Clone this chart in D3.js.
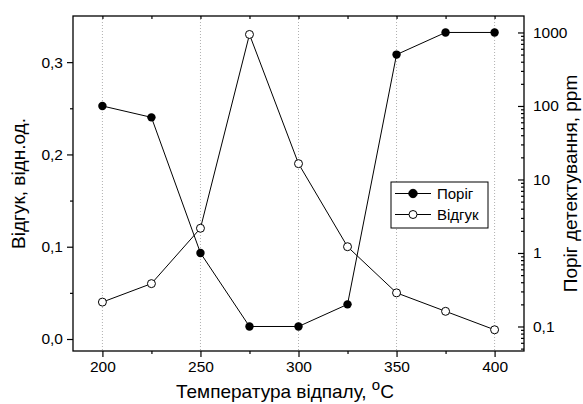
<!DOCTYPE html>
<html>
<head>
<meta charset="utf-8">
<script src="https://cdn.jsdelivr.net/npm/d3@7"></script>
<style>
  html, body { margin: 0; padding: 0; background: #fff; }
  svg { display: block; font-family: "Liberation Sans", Arial, sans-serif; }
</style>
</head>
<body>
<svg id="chart" width="583" height="404"></svg>
<script>
// Annealing temperature, °C
const temperatures = [200, 225, 250, 275, 300, 325, 350, 375, 400];
// Detection threshold, ppm (right, log axis)
const threshold = [100, 70, 1, 0.1, 0.1, 0.2, 500, 1000, 1000];
// Response, rel. units (left axis)
const response = [0.04, 0.06, 0.12, 0.33, 0.19, 0.10, 0.05, 0.03, 0.01];

const xTicks = [200, 250, 300, 350, 400];
const xMinorTicks = [225, 275, 325, 375];
const leftTicks = [0.0, 0.1, 0.2, 0.3];
const leftMinorTicks = [0.05, 0.15, 0.25];
const rightTicks = [0.1, 1, 10, 100, 1000];
const rightLabels = ["0,1", "1", "10", "100", "1000"];
const seriesNames = ["Поріг", "Відгук"];

const svg = d3.select("#chart");
const L = 73, R = 524, T = 16, B = 351;

const x = d3.scaleLinear().domain([185, 415]).range([L, R]);
const yL = d3.scaleLinear().domain([-0.013, 0.35]).range([B, T]);
const yR = d3.scaleLog().domain([0.0464, 1675]).range([B, T]);

const fmt = d => d3.format(".1f")(d).replace(".", ",");

// vertical dotted grid
svg.append("g").selectAll("line").data(xTicks).join("line")
  .attr("x1", d => x(d)).attr("x2", d => x(d))
  .attr("y1", T).attr("y2", B)
  .attr("stroke", "#b0b0b0").attr("stroke-width", 1)
  .attr("stroke-dasharray", "1,2");

// frame
svg.append("rect").attr("x", L).attr("y", T).attr("width", R - L).attr("height", B - T)
  .attr("fill", "none").attr("stroke", "#000").attr("stroke-width", 1.3);

// bottom axis
svg.append("g").attr("transform", `translate(0,${B})`)
  .call(d3.axisBottom(x).tickValues(xTicks).tickSize(6).tickPadding(4).tickFormat(d3.format("d")));
svg.append("g").attr("transform", `translate(0,${B})`)
  .call(d3.axisBottom(x).tickValues(xMinorTicks).tickSize(3).tickFormat(""));
// top axis marks
svg.append("g").attr("transform", `translate(0,${T})`)
  .call(d3.axisBottom(x).tickValues(xTicks.concat(xMinorTicks)).tickSize(3).tickFormat(""));

// left axis
svg.append("g").attr("transform", `translate(${L},0)`)
  .call(d3.axisLeft(yL).tickValues(leftTicks).tickSize(6).tickPadding(4).tickFormat(fmt));
svg.append("g").attr("transform", `translate(${L},0)`)
  .call(d3.axisLeft(yL).tickValues(leftMinorTicks).tickSize(3).tickFormat(""));

// right log axis, ticks pointing inward
const rightMinor = [];
[0.01, 0.1, 1, 10, 100, 1000].forEach(dec => {
  for (let k = 2; k <= 9; k++) {
    const v = dec * k;
    if (v >= yR.domain()[0] && v <= yR.domain()[1]) rightMinor.push(v);
  }
});
svg.append("g").attr("transform", `translate(${R},0)`)
  .call(d3.axisLeft(yR).tickValues(rightTicks).tickSize(6).tickFormat(""));
svg.append("g").attr("transform", `translate(${R},0)`)
  .call(d3.axisLeft(yR).tickValues(rightMinor).tickSize(3).tickFormat(""));
svg.append("g").selectAll("text").data(rightTicks).join("text")
  .attr("x", R + 9).attr("y", d => yR(d)).attr("dy", "0.35em")
  .attr("font-size", 15.5).text((d, i) => rightLabels[i]);

svg.selectAll(".domain").remove();
svg.selectAll(".tick line").attr("stroke", "#000").attr("stroke-width", 1.2);
svg.selectAll(".tick text").attr("font-size", 15.5).attr("fill", "#000")
  .attr("font-family", "Liberation Sans, Arial, sans-serif");

// series
const lineR = d3.line().x((d, i) => x(temperatures[i])).y(d => yR(d));
const lineL = d3.line().x((d, i) => x(temperatures[i])).y(d => yL(d));

svg.append("path").attr("d", lineR(threshold)).attr("fill", "none").attr("stroke", "#000").attr("stroke-width", 1);
svg.append("path").attr("d", lineL(response)).attr("fill", "none").attr("stroke", "#000").attr("stroke-width", 1);

svg.append("g").selectAll("circle").data(threshold).join("circle")
  .attr("cx", (d, i) => x(temperatures[i])).attr("cy", d => yR(d)).attr("r", 4.2)
  .attr("fill", "#000");
svg.append("g").selectAll("circle").data(response).join("circle")
  .attr("cx", (d, i) => x(temperatures[i])).attr("cy", d => yL(d)).attr("r", 4)
  .attr("fill", "#fff").attr("stroke", "#000").attr("stroke-width", 1);

// legend
const lg = svg.append("g").attr("transform", "translate(391,182)");
lg.append("rect").attr("width", 97).attr("height", 46).attr("fill", "#fff")
  .attr("stroke", "#000").attr("stroke-width", 1);
seriesNames.forEach((name, i) => {
  const yy = 11.5 + i * 21;
  lg.append("line").attr("x1", 4).attr("x2", 40).attr("y1", yy).attr("y2", yy)
    .attr("stroke", "#000").attr("stroke-width", 1);
  lg.append("circle").attr("cx", 22).attr("cy", yy).attr("r", i === 0 ? 4.2 : 4)
    .attr("fill", i === 0 ? "#000" : "#fff").attr("stroke", "#000").attr("stroke-width", 1);
  lg.append("text").attr("x", 46).attr("y", yy).attr("dy", "0.36em")
    .attr("font-size", 15).text(name);
});

// axis titles
svg.append("text").attr("transform", `translate(25,${(T + B) / 2}) rotate(-90)`)
  .attr("text-anchor", "middle").attr("font-size", 19).text("Відгук, відн.од.");
svg.append("text").attr("transform", `translate(577,${(T + B) / 2}) rotate(-90)`)
  .attr("text-anchor", "middle").attr("font-size", 19).text("Поріг детектування, ppm");
const xt = svg.append("text").attr("x", 176).attr("y", 398)
  .attr("font-size", 19);
xt.append("tspan").text("Температура відпалу, ");
xt.append("tspan").attr("dy", -8).attr("font-size", 15).text("o");
xt.append("tspan").attr("dy", 8).text("C");
</script>
</body>
</html>
